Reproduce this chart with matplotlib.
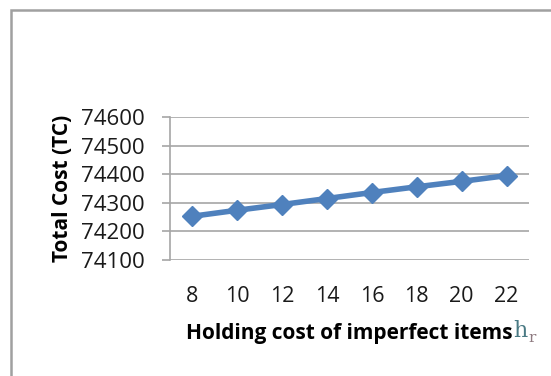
import matplotlib.pyplot as plt
from matplotlib.patches import Rectangle

# data
holding_cost = ['8', '10', '12', '14', '16', '18', '20', '22']
total_cost = [74253, 74274, 74294, 74315, 74336, 74356, 74375, 74395]
y_ticks = [74100, 74200, 74300, 74400, 74500, 74600]

line_color = '#4F81BD'
grid_color = '#A6A6A6'

plt.rcParams['font.family'] = ['Open Sans', 'DejaVu Sans']

fig = plt.figure(figsize=(5.51, 3.76), dpi=100)
ax = fig.add_axes([170 / 551, 1 - 260 / 376, 359 / 551, 143 / 376])

x = range(len(holding_cost))
ax.plot(x, total_cost, color=line_color, linewidth=4,
        marker='D', markersize=10, markeredgecolor=line_color)

ax.set_xlim(-0.5, len(holding_cost) - 0.5)
ax.set_ylim(y_ticks[0], y_ticks[-1])
ax.set_yticks(y_ticks)
ax.set_xticks(list(x))
ax.set_xticklabels(holding_cost)

ax.grid(axis='y', color=grid_color, linewidth=1.2)
ax.set_axisbelow(True)
for side in ['top', 'right', 'bottom']:
    ax.spines[side].set_visible(False)
ax.spines['left'].set_color(grid_color)
ax.spines['left'].set_linewidth(1.2)

ax.tick_params(axis='y', length=6, width=1.2, color=grid_color,
               labelsize=16, pad=12, labelcolor='#1a1a1a')
ax.tick_params(axis='x', length=0, labelsize=15.5, pad=19,
               labelcolor='#1a1a1a')

ax.set_ylabel('Total Cost (TC)', fontsize=15, fontweight='bold',
              labelpad=6)
ax.set_xlabel('Holding cost of imperfect items', fontsize=15,
              fontweight='bold', labelpad=11)

# the h_r symbol right after the axis title
ax.annotate('h', xy=(1, 0.1), xycoords=ax.xaxis.label, fontsize=16,
            family='DejaVu Serif', color='#4A7A84', va='bottom', ha='left')
ax.annotate('r', xy=(1, -0.08), xycoords=ax.xaxis.label, xytext=(11, 0),
            textcoords='offset points', fontsize=11,
            family='DejaVu Serif', color='#8E7A80', va='bottom', ha='left')

# outer chart frame
fig.patches.append(Rectangle((11 / 551, -0.1), 1.1, 1.1 - 10 / 376,
                             transform=fig.transFigure, fill=False,
                             edgecolor='#A0A0A0', linewidth=1.8))

fig.savefig('out.png', dpi=100)
